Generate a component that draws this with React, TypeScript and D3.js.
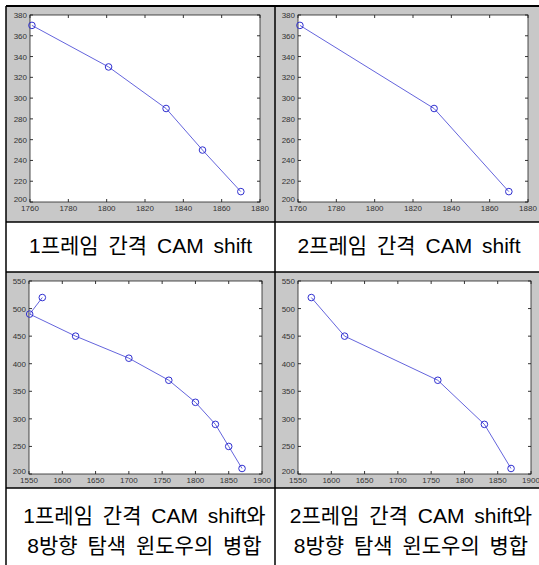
import * as d3 from 'd3'

// 1프레임 / 2프레임 CAM shift
const xs1 = [1761, 1801, 1831, 1850, 1870]
const ys1 = [370, 330, 290, 250, 210]
const xs2 = [1761, 1831, 1870]
const ys2 = [370, 290, 210]
// with 8-direction search window merge
const xs3 = [1570, 1551, 1620, 1700, 1760, 1800, 1830, 1850, 1870]
const ys3 = [520, 490, 450, 410, 370, 330, 290, 250, 210]
const xs4 = [1570, 1620, 1760, 1830, 1870]
const ys4 = [520, 450, 370, 290, 210]

const xTicksTop = [1760, 1780, 1800, 1820, 1840, 1860, 1880]
const yTicksTop = [200, 220, 240, 260, 280, 300, 320, 340, 360, 380]
const xTicksBottom = [1550, 1600, 1650, 1700, 1750, 1800, 1850, 1900]
const yTicksBottom = [200, 250, 300, 350, 400, 450, 500, 550]

const captionsTop = ['1프레임 간격 CAM shift', '2프레임 간격 CAM shift']
const captionsBottom = [
    ['1프레임 간격 CAM shift와', '8방향 탐색 윈도우의 병합'],
    ['2프레임 간격 CAM shift와', '8방향 탐색 윈도우의 병합'],
]

const W = 539
const H = 565
const tableLeft = 6
const tableTop = 6
const midX = 275
const row1ImgBottom = 222
const row1CapBottom = 272
const row2ImgBottom = 488

type PlotProps = {
    left: number, top: number, right: number, bottom: number,
    xs: number[], ys: number[], xTicks: number[], yTicks: number[]
}

function Plot({ left, top, right, bottom, xs, ys, xTicks, yTicks }: PlotProps) {
    const x = d3.scaleLinear().domain(d3.extent(xTicks) as [number, number]).range([left, right])
    const y = d3.scaleLinear().domain(d3.extent(yTicks) as [number, number]).range([bottom, top])
    const pts = xs.map((v, i) => [v, ys[i]] as [number, number])
    const line = d3.line<[number, number]>().x(d => x(d[0])).y(d => y(d[1]))
    const tk = 3
    return (
        <g>
            <rect x={left} y={top} width={right - left} height={bottom - top} fill="#fff" />
            {xTicks.map(t => (
                <g key={'x' + t}>
                    <line x1={x(t)} x2={x(t)} y1={bottom} y2={bottom - tk} stroke="#000" strokeWidth={0.8} />
                    <line x1={x(t)} x2={x(t)} y1={top} y2={top + tk} stroke="#000" strokeWidth={0.8} />
                    <text x={x(t)} y={bottom + 9} textAnchor="middle" fontSize={8} fill="#333"
                        fontFamily="Liberation Sans, Arial, sans-serif">{t}</text>
                </g>
            ))}
            {yTicks.map(t => (
                <g key={'y' + t}>
                    <line x1={left} x2={left + tk} y1={y(t)} y2={y(t)} stroke="#000" strokeWidth={0.8} />
                    <line x1={right} x2={right - tk} y1={y(t)} y2={y(t)} stroke="#000" strokeWidth={0.8} />
                    <text x={left - 3} y={y(t) + (t === yTicks[0] ? 0 : 3)} textAnchor="end" fontSize={8} fill="#333"
                        fontFamily="Liberation Sans, Arial, sans-serif">{t}</text>
                </g>
            ))}
            <rect x={left} y={top} width={right - left} height={bottom - top} fill="none" stroke="#222" strokeWidth={0.8} />
            <path d={line(pts) ?? ''} fill="none" stroke="#5252d8" strokeWidth={0.9} />
            {pts.map((p, i) => (
                <circle key={i} cx={x(p[0])} cy={y(p[1])} r={3.3} fill="none" stroke="#3030d0" strokeWidth={1} />
            ))}
        </g>
    )
}

export default function App() {
    const capFont = "'Liberation Sans', Arial, 'Noto Sans CJK KR', sans-serif"
    return (
        <svg width={W} height={H} style={{ position: 'absolute', left: 0, top: 0, background: '#fff' }}>
            {/* gray figure backgrounds */}
            <rect x={tableLeft} y={tableTop} width={midX - tableLeft} height={row1ImgBottom - tableTop} fill="#c8c8c8" />
            <rect x={midX} y={tableTop} width={W - midX} height={row1ImgBottom - tableTop} fill="#c8c8c8" />
            <rect x={tableLeft} y={row1CapBottom} width={midX - tableLeft} height={row2ImgBottom - row1CapBottom} fill="#c8c8c8" />
            <rect x={midX} y={row1CapBottom} width={W - midX} height={row2ImgBottom - row1CapBottom} fill="#c8c8c8" />

            <Plot left={30} top={15} right={260} bottom={202} xs={xs1} ys={ys1} xTicks={xTicksTop} yTicks={yTicksTop} />
            <Plot left={298} top={15} right={528} bottom={202} xs={xs2} ys={ys2} xTicks={xTicksTop} yTicks={yTicksTop} />
            <Plot left={29} top={281} right={262} bottom={474} xs={xs3} ys={ys3} xTicks={xTicksBottom} yTicks={yTicksBottom} />
            <Plot left={298} top={281} right={531} bottom={474} xs={xs4} ys={ys4} xTicks={xTicksBottom} yTicks={yTicksBottom} />

            {/* table lines */}
            <line x1={tableLeft} x2={W} y1={tableTop} y2={tableTop} stroke="#000" strokeWidth={2} />
            <line x1={tableLeft} x2={tableLeft} y1={tableTop} y2={H} stroke="#000" strokeWidth={1.5} />
            <line x1={midX} x2={midX} y1={tableTop} y2={H} stroke="#000" strokeWidth={1.5} />
            <line x1={tableLeft} x2={W} y1={row1ImgBottom} y2={row1ImgBottom} stroke="#000" strokeWidth={1.5} />
            <line x1={tableLeft} x2={W} y1={row1CapBottom} y2={row1CapBottom} stroke="#000" strokeWidth={1.5} />
            <line x1={tableLeft} x2={W} y1={row2ImgBottom} y2={row2ImgBottom} stroke="#000" strokeWidth={1.5} />

            {captionsTop.map((c, i) => (
                <text key={c} x={i === 0 ? (tableLeft + midX) / 2 : (midX + W) / 2 + 2} y={253} textAnchor="middle"
                    fontSize={21} fontFamily={capFont} wordSpacing={4} fill="#000">{c}</text>
            ))}
            {captionsBottom.map((lines, i) => lines.map((c, j) => (
                <text key={i + '-' + j} x={i === 0 ? (tableLeft + midX) / 2 + 4 : (midX + W) / 2 + 4} y={523 + j * 30}
                    textAnchor="middle" fontSize={21} fontFamily={capFont} wordSpacing={4} fill="#000">{c}</text>
            )))}
        </svg>
    )
}
